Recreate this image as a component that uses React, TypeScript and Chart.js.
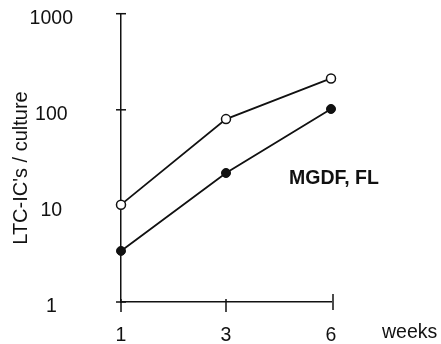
import React, { useEffect, useRef } from "react";
import { Chart, registerables } from "chart.js";

Chart.register(...registerables);

const weeks = ["1", "3", "6"];
const openSeries = [10.3, 80, 212];
const filledSeries = [3.4, 22, 102];
const yTickValues = [1, 10, 100, 1000];
const yTitle = "LTC-IC's / culture";
const xUnit = "weeks";
const annotation = "MGDF, FL";

const FONT = "'Liberation Sans', Arial, Helvetica, sans-serif";
const INK = "#111";

const customDraw = {
  id: "customDraw",
  afterDraw(chart: any) {
    const ctx = chart.ctx;
    const xs = chart.scales.x;
    const ys = chart.scales.y;
    const ca = chart.chartArea;
    ctx.save();
    ctx.strokeStyle = INK;
    ctx.lineWidth = 1.5;
    // y ticks crossing axis
    [1, 100, 1000].forEach((v) => {
      const y = ys.getPixelForValue(v);
      ctx.beginPath();
      ctx.moveTo(ca.left - 5, y);
      ctx.lineTo(ca.left + 5, y);
      ctx.stroke();
    });
    // x ticks downward
    weeks.forEach((w, i) => {
      const x = xs.getPixelForValue(i);
      ctx.beginPath();
      if (i === weeks.length - 1) {
        ctx.moveTo(x + 2, ca.bottom - 8);
        ctx.lineTo(x + 2, ca.bottom + 8);
      } else {
        ctx.moveTo(x, ca.bottom - 3);
        ctx.lineTo(x, ca.bottom + 10);
      }
      ctx.stroke();
    });
    ctx.fillStyle = INK;
    ctx.textBaseline = "alphabetic";
    ctx.textAlign = "left";
    ctx.font = `19.5px ${FONT}`;
    ctx.fillText(xUnit, 382, 338);
    ctx.font = `bold 19.5px ${FONT}`;
    ctx.fillText(annotation, 289, 184);
    ctx.translate(27, 168);
    ctx.rotate(-Math.PI / 2);
    ctx.textAlign = "center";
    ctx.font = `20px ${FONT}`;
    ctx.fillText(yTitle, 0, 0);
    ctx.restore();
  },
};

export default function App() {
  const ref = useRef<HTMLCanvasElement>(null);
  useEffect(() => {
    const chart = new Chart(ref.current!, {
      type: "line",
      data: {
        labels: weeks,
        datasets: [
          {
            data: openSeries,
            borderColor: INK,
            borderWidth: 1.8,
            pointBackgroundColor: "#fff",
            pointBorderColor: INK,
            pointBorderWidth: 1.5,
            pointRadius: 4.5,
          },
          {
            data: filledSeries,
            borderColor: INK,
            borderWidth: 1.8,
            pointBackgroundColor: INK,
            pointBorderColor: INK,
            pointBorderWidth: 1,
            pointRadius: 4.5,
          },
        ],
      },
      options: {
        animation: false,
        responsive: false,
        maintainAspectRatio: false,
        layout: { padding: { left: 0, right: 110, top: 12, bottom: 0 } },
        plugins: { legend: { display: false }, tooltip: { enabled: false } },
        scales: {
          x: {
            type: "category",
            offset: false,
            grid: { display: true, drawOnChartArea: false, drawTicks: true, tickLength: 12, tickColor: "rgba(0,0,0,0)" },
            border: { display: true, color: INK, width: 1.5 },
            ticks: { color: INK, font: { family: FONT, size: 19.5 }, padding: 10, maxRotation: 0 },
            afterFit: (s: any) => {
              s.height = 42;
            },
          },
          y: {
            type: "logarithmic",
            min: 1,
            max: 1000,
            grid: { display: true, drawOnChartArea: false, drawTicks: true, tickLength: 46, tickColor: "rgba(0,0,0,0)" },
            border: { display: true, color: INK, width: 1.5 },
            afterBuildTicks: (s: any) => {
              s.ticks = yTickValues.map((v) => ({ value: v }));
            },
            ticks: {
              color: INK,
              font: { family: FONT, size: 19.5 },
              padding: 2,
              crossAlign: "center",
              labelOffset: 5,
              callback: (v: any) => String(v),
            },
            afterFit: (s: any) => {
              s.width = 121;
            },
          },
        },
      },
      plugins: [customDraw],
    });
    return () => chart.destroy();
  }, []);
  return (
    <div style={{ position: "fixed", left: 0, top: 0, width: 441, height: 344, background: "#fff" }}>
      <canvas ref={ref} width={441} height={344} style={{ display: "block" }} />
    </div>
  );
}
